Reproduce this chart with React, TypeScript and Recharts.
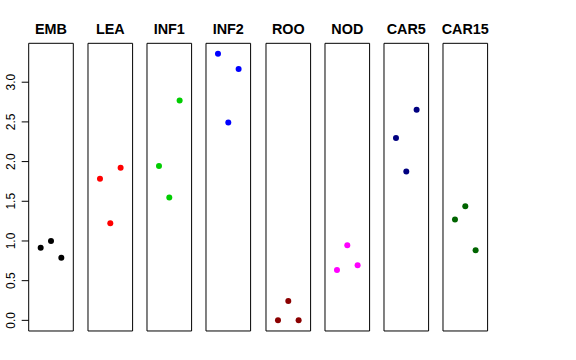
import { ReferenceArea, Scatter, ScatterChart, XAxis, YAxis } from "recharts";

const groups = ["EMB", "LEA", "INF1", "INF2", "ROO", "NOD", "CAR5", "CAR15"];
const groupColors = ["#000000", "#FF0000", "#00CD00", "#0000FF", "#8B0000", "#FF00FF", "#000080", "#006400"];
const replicates = [1, 2, 3];

const embValues = [0.914, 0.999, 0.789];
const leaValues = [1.783, 1.222, 1.922];
const inf1Values = [1.943, 1.549, 2.771];
const inf2Values = [3.357, 2.494, 3.165];
const rooValues = [0.0, 0.243, 0.0];
const nodValues = [0.634, 0.945, 0.693];
const car5Values = [2.296, 1.876, 2.652];
const car15Values = [1.272, 1.436, 0.882];

const groupValues = [embValues, leaValues, inf1Values, inf2Values, rooValues, nodValues, car5Values, car15Values];

const yTicks = [0, 0.5, 1, 1.5, 2, 2.5, 3];
const yDomain: [number, number] = [-0.134, 3.49];
const xDomain: [number, number] = [-0.16, 4.16];

const FONT = "'Liberation Sans', Arial, sans-serif";
const PANEL_LEFT = 28.7;
const PANEL_STEP = 59.2;
const PANEL_W = 44.6;
const TOP = 43.3;
const BOTTOM = 29;
const PAD = 3;

function YTick(props: any) {
  const { x, y, payload } = props;
  return (
    <g transform={`translate(${x},${y}) rotate(-90)`}>
      <text x={0} y={0} textAnchor="middle" fontSize={12} fill="#000" fontFamily={FONT}>
        {Number(payload.value).toFixed(1)}
      </text>
    </g>
  );
}

function Panel({ index }: { index: number }) {
  const first = index === 0;
  const color = groupColors[index];
  const data = replicates.map((r, i) => ({ x: r, y: groupValues[index][i] }));
  const left = first ? 0 : PANEL_LEFT + index * PANEL_STEP - PAD;
  const width = first ? PANEL_LEFT + PANEL_W + PAD : PANEL_W + 2 * PAD;

  return (
    <div style={{ position: "absolute", left, top: 0 }}>
      <ScatterChart
        width={width}
        height={360}
        margin={{ top: TOP, right: PAD, bottom: BOTTOM, left: first ? 0 : PAD }}
        style={{ overflow: "visible" }}
      >
        <XAxis type="number" dataKey="x" domain={xDomain} hide />
        <YAxis
          type="number"
          dataKey="y"
          domain={yDomain}
          ticks={yTicks}
          hide={!first}
          width={PANEL_LEFT}
          axisLine={false}
          tickLine={{ stroke: "#000" }}
          tickSize={7}
          tickMargin={7}
          tick={<YTick />}
          interval={0}
          allowDataOverflow
        />
        <ReferenceArea
          x1={xDomain[0]}
          x2={xDomain[1]}
          y1={yDomain[0]}
          y2={yDomain[1]}
          fill="none"
          stroke="#000"
          strokeWidth={1}
          fillOpacity={0}
          strokeOpacity={1}
          ifOverflow="visible"
          label={{
            value: groups[index],
            position: "top",
            offset: 9.3,
            fontSize: 14.4,
            fontWeight: "bold",
            fill: "#000",
            fontFamily: FONT,
          }}
        />
        <Scatter
          data={data}
          isAnimationActive={false}
          shape={(p: any) => <circle cx={p.cx} cy={p.cy} r={3} fill={color} />}
        />
      </ScatterChart>
    </div>
  );
}

export default function App() {
  return (
    <div style={{ position: "absolute", left: 0, top: 0, width: 576, height: 360, background: "#fff", fontFamily: FONT }}>
      {groups.map((g, i) => (
        <Panel key={g} index={i} />
      ))}
    </div>
  );
}
